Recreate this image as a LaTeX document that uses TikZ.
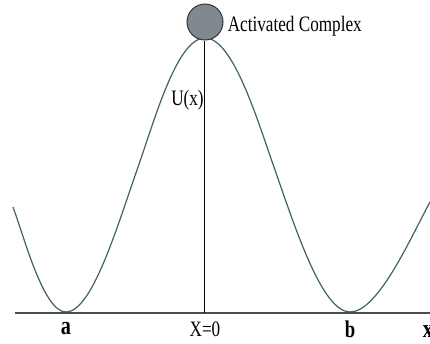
\documentclass[tikz,border=0pt]{standalone}
\usepackage{fontspec}
\setmainfont{Liberation Serif}
\usepackage{xcolor}
\usetikzlibrary{positioning}
\definecolor{curvecol}{RGB}{62,98,102}
\definecolor{knotgray}{RGB}{128,136,144}

\begin{document}
\begin{tikzpicture}[x=0.5pt, y=-0.5pt,
  lbl/.style={font=\fontsize{11}{13}\selectfont, inner sep=0pt, xscale=0.78},
  pointlbl/.style={lbl, font=\fontsize{13}{15}\selectfont\bfseries},
  axis/.style={draw=black!70, line width=1pt}]
  \useasboundingbox (0,0) rectangle (430,344);
  % potential curve
  \coordinate (wallL) at (13,207);
  \coordinate (minA) at (66,312);
  \coordinate (flankL) at (137,170);
  \coordinate (top) at (205,38);
  \coordinate (flankR) at (275,170);
  \coordinate (minB) at (350,312);
  \coordinate (wallR) at (430,202);
  \draw[curvecol, line width=0.6pt]
    (wallL) .. controls (25,240) and (44,312) .. (minA)
    .. controls (92,312) and (117,227) .. (flankL)
    .. controls (155,119) and (177,38) .. (top)
    .. controls (233,38) and (257,119) .. (flankR)
    .. controls (295,227) and (322,312) .. (minB)
    .. controls (378,312) and (410,239) .. (wallR);
  % axes
  \coordinate (left) at (15,313);
  \coordinate (right) at (430,313);
  \coordinate (a) at (66,313);
  \coordinate (origin) at (205,313);
  \coordinate (b) at (350,313);
  \coordinate (xend) at (428,313);
  \draw[axis] (left) -- (right);
  \node[circle, draw=black!80, fill=knotgray, line width=0.5pt,
    minimum size=18pt, inner sep=0pt] (complex) at (205,22) {};
  \draw[line width=0.5pt] (complex.south) -- (origin);
  \node[lbl, right=2pt of complex, yshift=-2pt] (label) {Activated Complex};
  \node[lbl, anchor=east] (ux) at (204,100) {U(x)};
  % labels on the axis
  \node[pointlbl, below=4.5pt of a] (alabel) {a};
  \node[lbl, below=4pt of origin] (zero) {X=0};
  \node[pointlbl, font=\fontsize{12}{14}\selectfont\bfseries,
    below=3.5pt of b] (blabel) {b};
  \node[pointlbl, below=6pt of xend] (xlabel) {x};
\end{tikzpicture}
\end{document}
